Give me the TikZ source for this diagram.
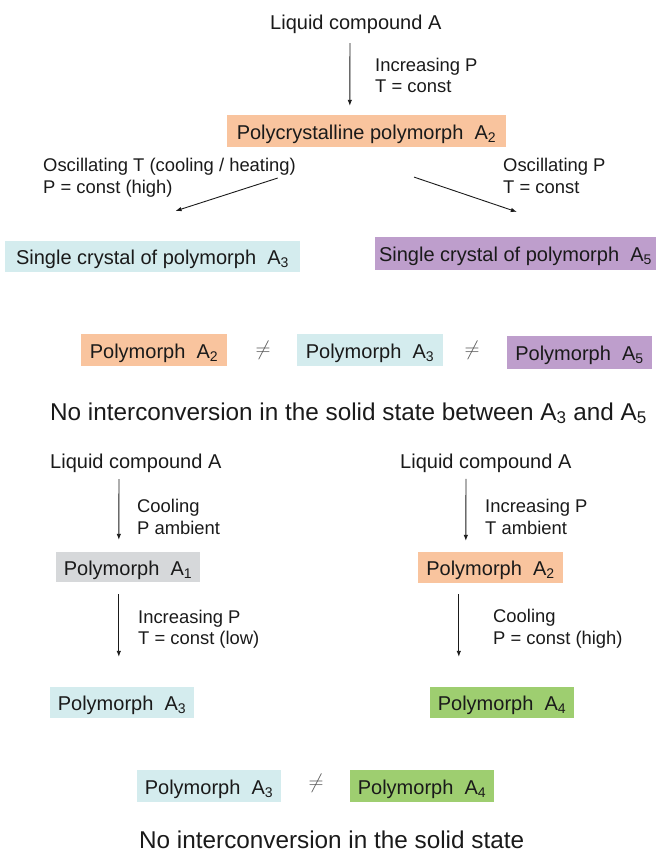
\documentclass[tikz,border=0pt]{standalone}
\usepackage{fontspec}
\setmainfont{Liberation Sans}
\usetikzlibrary{arrows.meta}
\definecolor{ink}{HTML}{1A1A1A}
\definecolor{corange}{HTML}{F9C49E}
\definecolor{cblue}{HTML}{D4ECEE}
\definecolor{cpurple}{HTML}{BE9ECC}
\definecolor{cgray}{HTML}{D6D8DA}
\definecolor{cgreen}{HTML}{9ECE70}
\begin{document}
\begin{tikzpicture}[x=1pt,y=-1pt,
  txt/.style={inner sep=0pt, font=\fontsize{20}{24}\selectfont, text=ink, text height=15pt, text depth=5pt, anchor=base west},
  lbl/.style={inner sep=0pt, font=\fontsize{18.4}{21.5}\selectfont, text=ink, anchor=base west},
  big/.style={inner sep=0pt, font=\fontsize{24.3}{29}\selectfont, text=ink, anchor=base west},
  boxn/.style={inner sep=0pt, font=\fontsize{20}{24}\selectfont, text=ink, text height=16pt, text depth=0pt, fill=#1},
  neq/.style={inner sep=0pt, font=\fontsize{20}{24}\selectfont, text=ink!75},
  arr/.style={draw=ink, line width=0.9pt, -{Latex[length=6pt,width=4.5pt]}}
]
\useasboundingbox (0,0) rectangle (665,854);

% top part
\node[txt] (lcT) at (270,29.3) {Liquid compound A};
\node[boxn=corange, minimum width=279pt, minimum height=32pt] (poly) at (366.5,131) {Polycrystalline polymorph~~A\textsubscript{2}};
\node[lbl] (lT) at (375,71) {\begin{tabular}[t]{@{}l@{}}Increasing P\\T = const\end{tabular}};
\draw[arr, shorten <=8.7pt, shorten >=9pt] ([xshift=80pt]lcT.south west) -- ([xshift=123pt]poly.north west);

\node[lbl] (lOT) at (43,171.7) {\begin{tabular}[t]{@{}l@{}}Oscillating T (cooling / heating)\\P = const (high)\end{tabular}};
\node[lbl] (lOP) at (503,171.7) {\begin{tabular}[t]{@{}l@{}}Oscillating P\\T = const\end{tabular}};

\node[boxn=cblue, minimum width=295pt, minimum height=31pt] (sc3) at (152.5,256.5) {Single crystal of polymorph~~A\textsubscript{3}};
\node[boxn=cpurple, minimum width=281pt, minimum height=33pt] (sc5) at (515.5,253.5) {Single crystal of polymorph~~A\textsubscript{5}};

\draw[arr, shorten <=100.7pt, shorten >=97.4pt] ([xshift=7pt]poly.south) -- ([xshift=78pt]sc3.north west);
\draw[arr, shorten <=93.3pt, shorten >=77.7pt] ([xshift=-40.8pt]poly.south) -- ([xshift=215.6pt]sc5.north west);

% comparison row
\node[boxn=corange, minimum width=146pt, minimum height=32pt] (r2) at (154,350) {Polymorph~~A\textsubscript{2}};
\node[neq] (ne1) at (263,350) {$\neq$};
\node[boxn=cblue, minimum width=146pt, minimum height=32pt] (r3) at (370,350) {Polymorph~~A\textsubscript{3}};
\node[neq] (ne2) at (472,350) {$\neq$};
\node[boxn=cpurple, minimum width=145pt, minimum height=33pt] (r5) at (579.5,352.5) {Polymorph~~A\textsubscript{5}};

\node[big] (no1) at (50,420) {No interconversion in the solid state between A\textsubscript{3} and A\textsubscript{5}};

% lower left
\node[txt] (lcL) at (50,468.3) {Liquid compound A};
\node[lbl] (lL1) at (137,512.7) {\begin{tabular}[t]{@{}l@{}}Cooling\\P ambient\end{tabular}};
\node[boxn=cgray, minimum width=144pt, minimum height=30pt] (a1) at (128,567) {Polymorph~~A\textsubscript{1}};
\node[lbl] (lL2) at (138,623.3) {\begin{tabular}[t]{@{}l@{}}Increasing P\\T = const (low)\end{tabular}};
\node[boxn=cblue, minimum width=144pt, minimum height=31pt] (a3) at (122,702.5) {Polymorph~~A\textsubscript{3}};
\draw[arr, shorten <=5.7pt, shorten >=12pt] ([xshift=69pt]lcL.south west) -- ([xshift=63pt]a1.north west);
\draw[arr, shorten <=12pt, shorten >=30pt] ([xshift=63pt]a1.south west) -- ([xshift=69pt]a3.north west);

% lower right
\node[txt] (lcR) at (400,468) {Liquid compound A};
\node[lbl] (lR1) at (485,512.7) {\begin{tabular}[t]{@{}l@{}}Increasing P\\T ambient\end{tabular}};
\node[boxn=corange, minimum width=145pt, minimum height=31pt] (a2) at (490.5,567.5) {Polymorph~~A\textsubscript{2}};
\node[lbl] (lR2) at (493,622.7) {\begin{tabular}[t]{@{}l@{}}Cooling\\P = const (high)\end{tabular}};
\node[boxn=cgreen, minimum width=144pt, minimum height=31pt] (a4) at (502,702.5) {Polymorph~~A\textsubscript{4}};
\draw[arr, shorten <=5.7pt, shorten >=11pt] ([xshift=66pt]lcR.south west) -- ([xshift=48pt]a2.north west);
\draw[arr, shorten <=11pt, shorten >=30pt] ([xshift=41pt]a2.south west) -- ([xshift=29pt]a4.north west);

% bottom row
\node[boxn=cblue, minimum width=144pt, minimum height=32pt] (b3) at (209,786) {Polymorph~~A\textsubscript{3}};
\node[neq] (ne3) at (316,783) {$\neq$};
\node[boxn=cgreen, minimum width=144pt, minimum height=32pt] (b4) at (422,786) {Polymorph~~A\textsubscript{4}};
\node[big] (no2) at (139,848.5) {No interconversion in the solid state};
\end{tikzpicture}
\end{document}
